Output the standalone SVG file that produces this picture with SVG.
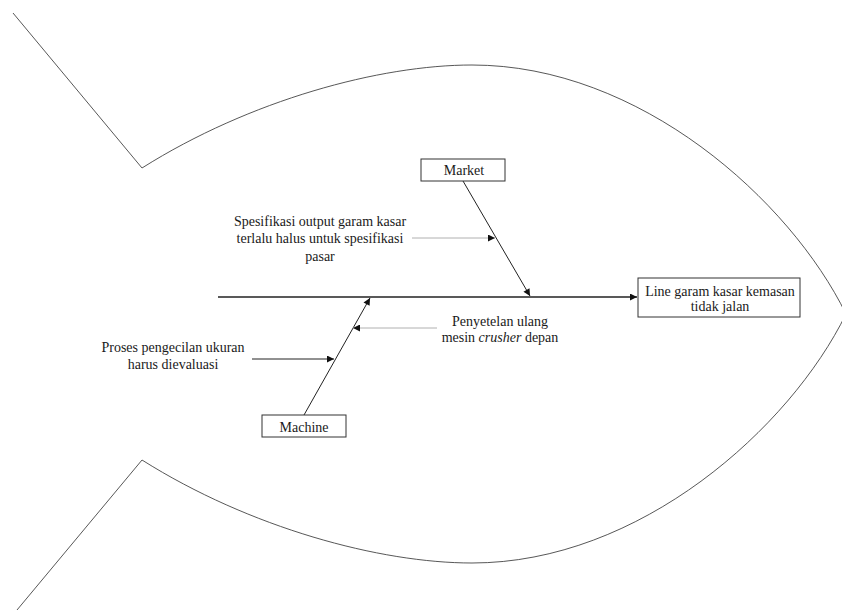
<svg xmlns="http://www.w3.org/2000/svg" width="842" height="610" viewBox="0 0 842 610">
  <style>
    text { font-family: "Liberation Serif", "Times New Roman", serif; font-size: 14px; fill: #1a1a1a; }
    .c { text-anchor: middle; }
    .box { fill: #fff; stroke: #333; stroke-width: 1; }
    .fish { fill: none; stroke: #444; stroke-width: 0.9; }
    .bone { fill: none; stroke: #222; stroke-width: 1; }
    .spine { fill: none; stroke: #222; stroke-width: 1.3; }
    .sub { fill: none; stroke: #b0b0b0; stroke-width: 1; }
    .subd { fill: none; stroke: #222; stroke-width: 1; }
  </style>
  <defs>
    <marker id="ah" viewBox="0 0 10 10" refX="10" refY="5" markerWidth="9" markerHeight="7" markerUnits="userSpaceOnUse" orient="auto">
      <path d="M0,0 L10,5 L0,10 z" fill="#111"/>
    </marker>
  </defs>

  <g id="fish-outline">
    <path class="fish" d="M13,13 L142,168 C250,100 380,65 472,65 C640,65 790,200 846,314 C790,428 640,563 472,563 C380,563 250,528 142,460 L17,610"/>
  </g>

  <g id="connectors">
    <line class="spine" x1="218" y1="297" x2="637" y2="297" marker-end="url(#ah)"/>
    <line class="bone" x1="463" y1="181" x2="530" y2="296" marker-end="url(#ah)"/>
    <line class="bone" x1="304" y1="415" x2="370" y2="298" marker-end="url(#ah)"/>
    <line class="sub" x1="412" y1="238" x2="495" y2="238" marker-end="url(#ah)"/>
    <line class="sub" x1="437" y1="328" x2="353" y2="328" marker-end="url(#ah)"/>
    <line class="subd" x1="252" y1="359" x2="334" y2="359" marker-end="url(#ah)"/>
  </g>

  <g id="effect">
    <rect class="box" x="638" y="278" width="162" height="39"/>
    <text class="c" x="720" y="296">Line garam kasar kemasan</text>
    <text class="c" x="720" y="311">tidak jalan</text>
  </g>

  <g id="market">
    <rect class="box" x="421" y="159" width="84" height="22"/>
    <text class="c" x="464" y="175">Market</text>
  </g>

  <g id="machine">
    <rect class="box" x="262" y="415" width="84" height="22"/>
    <text class="c" x="304" y="432">Machine</text>
  </g>

  <g id="cause-spesifikasi">
    <text class="c" x="320" y="226">Spesifikasi output garam kasar</text>
    <text class="c" x="320" y="243">terlalu halus untuk spesifikasi</text>
    <text class="c" x="320" y="261">pasar</text>
  </g>

  <g id="cause-penyetelan">
    <text class="c" x="500" y="326">Penyetelan ulang</text>
    <text class="c" x="500" y="342">mesin <tspan font-style="italic">crusher</tspan> depan</text>
  </g>

  <g id="cause-proses">
    <text class="c" x="173" y="352">Proses pengecilan ukuran</text>
    <text class="c" x="173" y="369">harus dievaluasi</text>
  </g>
</svg>
